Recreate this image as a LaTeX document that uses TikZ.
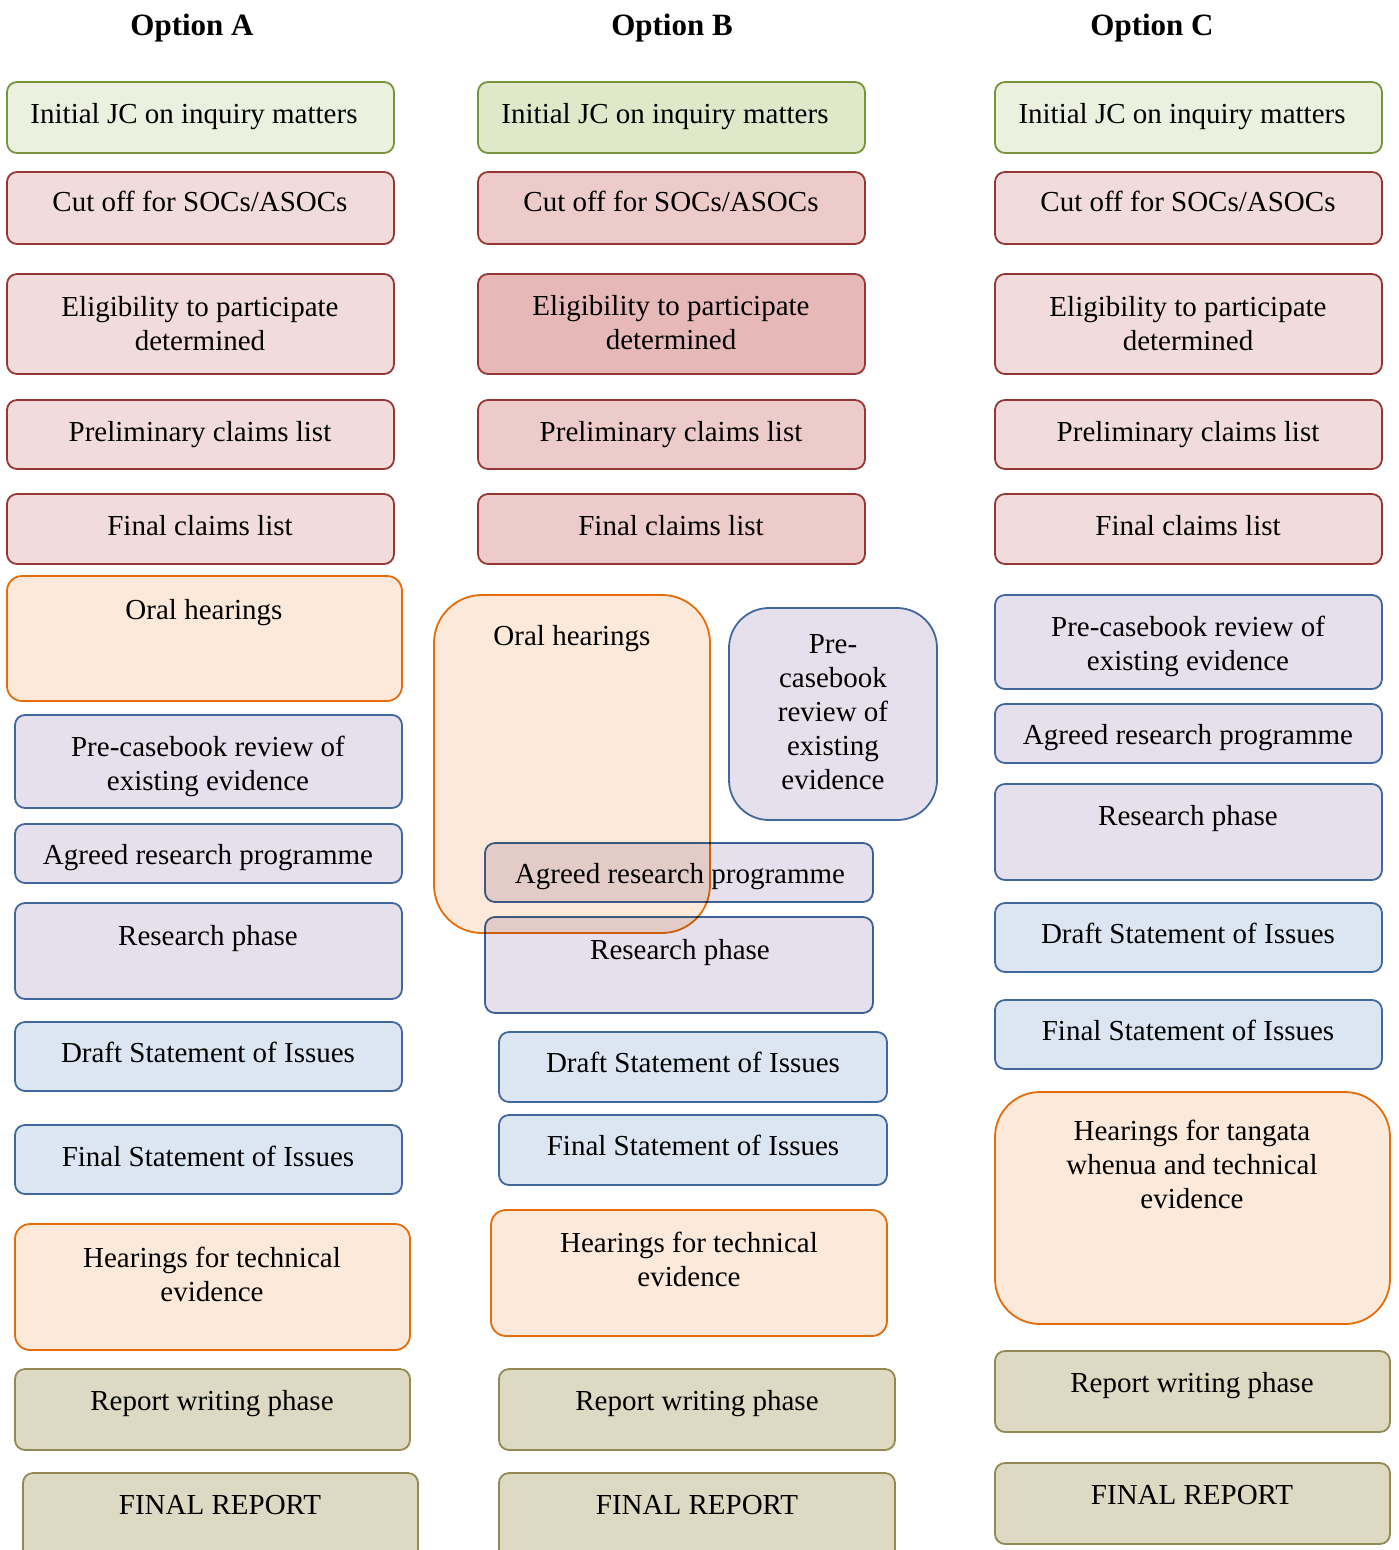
\documentclass[tikz,border=0pt]{standalone}
\usepackage{fontspec}
\setmainfont{Liberation Serif}
\definecolor{grnF}{HTML}{EBF1DE}
\definecolor{grnFB}{HTML}{DFE8C9}
\definecolor{grnD}{HTML}{77933C}
\definecolor{redF}{HTML}{F2DCDB}
\definecolor{redFB}{HTML}{EDCBCB}
\definecolor{redFE}{HTML}{E6B9B8}
\definecolor{redD}{HTML}{953735}
\definecolor{orF}{HTML}{FDE9D9}
\definecolor{orD}{HTML}{E46C0A}
\definecolor{lavF}{HTML}{E5E0EC}
\definecolor{bluF}{HTML}{DCE6F2}
\definecolor{bluD}{HTML}{41689C}
\definecolor{olF}{HTML}{DDD9C3}
\definecolor{olD}{HTML}{938953}
\tikzset{
  basebox/.style={rectangle, rounded corners=10pt, line width=1.8pt, inner sep=0pt, outer sep=0pt},
  gbox/.style={basebox, draw=grnD, fill=grnF},
  gboxB/.style={basebox, draw=grnD, fill=grnFB},
  rbox/.style={basebox, draw=redD, fill=redF},
  rboxB/.style={basebox, draw=redD, fill=redFB},
  rboxE/.style={basebox, draw=redD, fill=redFE},
  obox/.style={basebox, draw=orD, fill=orF},
  lbox/.style={basebox, draw=bluD, fill=lavF},
  bbox/.style={basebox, draw=bluD, fill=bluF},
  olbox/.style={basebox, draw=olD, fill=olF},
  txt/.style={inner sep=0pt, anchor=base, align=center, font=\fontsize{29}{34}\selectfont},
  ttl/.style={inner sep=0pt, anchor=base, font=\fontsize{31}{36}\selectfont\bfseries},
}
% #1 name, #2 style, #3 x1, #4 y1, #5 x2, #6 y2
\newcommand\mybox[6]{%
  \node[#2, minimum width={#5-#3}, minimum height={#6-#4}] (#1) at ({(#3+#5)/2},{(#4+#6)/2}) {};}
\begin{document}
\begin{tikzpicture}[x=1pt,y=-1pt]
\useasboundingbox (0,0) rectangle (1398,1550);
% titles
\node[ttl] (tA) at (192,35) {Option A};
\node[ttl] (tB) at (672,35) {Option B};
\node[ttl] (tC) at (1152,35) {Option C};

% ---------------- Option A
\mybox{a1}{gbox}{7}{82}{394}{153}
\node[txt] (a1t) at (194,123) {Initial JC on inquiry matters};
\mybox{a2}{rbox}{7}{172}{394}{244}
\node[txt] (a2t) at (200,211) {Cut off for SOCs/ASOCs};
\mybox{a3}{rbox}{7}{274}{394}{374}
\node[txt] (a3t) at (200,350) {Eligibility to participate\\determined};
\mybox{a4}{rbox}{7}{400}{394}{469}
\node[txt] (a4t) at (200,441) {Preliminary claims list};
\mybox{a5}{rbox}{7}{494}{394}{564}
\node[txt] (a5t) at (200,535) {Final claims list};
\mybox{a6}{obox, rounded corners=15pt}{7}{576}{402}{701}
\node[txt] (a6t) at (204,619) {Oral hearings};
\mybox{a7}{lbox}{15}{715}{402}{808}
\node[txt] (a7t) at (208,790) {Pre-casebook review of\\existing evidence};
\mybox{a8}{lbox}{15}{824}{402}{883}
\node[txt] (a8t) at (208,864) {Agreed research programme};
\mybox{a9}{lbox}{15}{903}{402}{999}
\node[txt] (a9t) at (208,945) {Research phase};
\mybox{a10}{bbox}{15}{1022}{402}{1091}
\node[txt] (a10t) at (208,1062) {Draft Statement of Issues};
\mybox{a11}{bbox}{15}{1125}{402}{1194}
\node[txt] (a11t) at (208,1166) {Final Statement of Issues};
\mybox{a12}{obox, rounded corners=15pt}{15}{1224}{410}{1350}
\node[txt] (a12t) at (212,1301) {Hearings for technical\\evidence};
\mybox{a13}{olbox}{15}{1369}{410}{1450}
\node[txt] (a13t) at (212,1410) {Report writing phase};
\mybox{a14}{olbox}{23}{1473}{418}{1562}
\node[txt] (a14t) at (220,1514) {FINAL REPORT};

% ---------------- Option B
\mybox{b1}{gboxB}{478}{82}{865}{153}
\node[txt] (b1t) at (665,123) {Initial JC on inquiry matters};
\mybox{b2}{rboxB}{478}{172}{865}{244}
\node[txt] (b2t) at (671,211) {Cut off for SOCs/ASOCs};
\mybox{b3}{rboxE}{478}{274}{865}{374}
\node[txt] (b3t) at (671,349) {Eligibility to participate\\determined};
\mybox{b4}{rboxB}{478}{400}{865}{469}
\node[txt] (b4t) at (671,441) {Preliminary claims list};
\mybox{b5}{rboxB}{478}{494}{865}{564}
\node[txt] (b5t) at (671,535) {Final claims list};
\mybox{b6}{obox, rounded corners=48pt}{434}{595}{710}{933}
\node[txt] (b6t) at (572,645) {Oral hearings};
\mybox{b7}{lbox, rounded corners=40pt}{729}{608}{937}{820}
\node[txt] (b7t) at (833,789) {Pre-\\casebook\\review of\\existing\\evidence};
\begin{scope}[blend mode=multiply]
\mybox{b8}{lbox}{485}{843}{873}{902}
\node[txt] (b8t) at (680,883) {Agreed research programme};
\mybox{b9}{lbox}{485}{917}{873}{1013}
\node[txt] (b9t) at (680,959) {Research phase};
\end{scope}
\mybox{b10}{bbox}{499}{1032}{887}{1102}
\node[txt] (b10t) at (693,1072) {Draft Statement of Issues};
\mybox{b11}{bbox}{499}{1115}{887}{1185}
\node[txt] (b11t) at (693,1155) {Final Statement of Issues};
\mybox{b12}{obox, rounded corners=15pt}{491}{1210}{887}{1336}
\node[txt] (b12t) at (689,1286) {Hearings for technical\\evidence};
\mybox{b13}{olbox}{499}{1369}{895}{1450}
\node[txt] (b13t) at (697,1410) {Report writing phase};
\mybox{b14}{olbox}{499}{1473}{895}{1562}
\node[txt] (b14t) at (697,1514) {FINAL REPORT};

% ---------------- Option C
\mybox{c1}{gbox}{995}{82}{1382}{153}
\node[txt] (c1t) at (1182,123) {Initial JC on inquiry matters};
\mybox{c2}{rbox}{995}{172}{1382}{244}
\node[txt] (c2t) at (1188,211) {Cut off for SOCs/ASOCs};
\mybox{c3}{rbox}{995}{274}{1382}{374}
\node[txt] (c3t) at (1188,350) {Eligibility to participate\\determined};
\mybox{c4}{rbox}{995}{400}{1382}{469}
\node[txt] (c4t) at (1188,441) {Preliminary claims list};
\mybox{c5}{rbox}{995}{494}{1382}{564}
\node[txt] (c5t) at (1188,535) {Final claims list};
\mybox{c6}{lbox}{995}{595}{1382}{689}
\node[txt] (c6t) at (1188,670) {Pre-casebook review of\\existing evidence};
\mybox{c7}{lbox}{995}{704}{1382}{763}
\node[txt] (c7t) at (1188,744) {Agreed research programme};
\mybox{c8}{lbox}{995}{784}{1382}{880}
\node[txt] (c8t) at (1188,825) {Research phase};
\mybox{c9}{bbox}{995}{903}{1382}{972}
\node[txt] (c9t) at (1188,943) {Draft Statement of Issues};
\mybox{c10}{bbox}{995}{1000}{1382}{1069}
\node[txt] (c10t) at (1188,1040) {Final Statement of Issues};
\mybox{c11}{obox, rounded corners=45pt}{995}{1092}{1390}{1324}
\node[txt] (c11t) at (1192,1208) {Hearings for tangata\\whenua and technical\\evidence};
\mybox{c12}{olbox}{995}{1351}{1390}{1432}
\node[txt] (c12t) at (1192,1392) {Report writing phase};
\mybox{c13}{olbox}{995}{1463}{1390}{1544}
\node[txt] (c13t) at (1192,1504) {FINAL REPORT};
\end{tikzpicture}
\end{document}
